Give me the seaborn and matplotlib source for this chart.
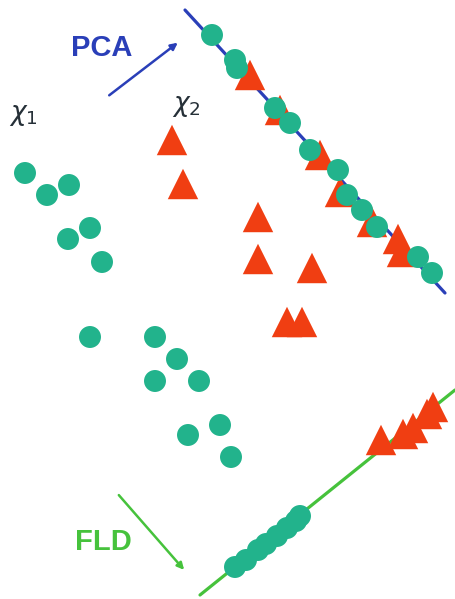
import matplotlib
matplotlib.use("Agg")
import matplotlib.pyplot as plt
import seaborn as sns

# diagram drawn in image-pixel coordinates (y grows downward)
class1_x = [25, 47, 69, 68, 90, 102, 90, 155, 177, 155, 199, 188, 220, 231]
class1_y = [173, 195, 185, 239, 228, 262, 337, 337, 359, 381, 381, 435, 425, 457]
class2_x = [172, 183, 258, 258, 312, 287, 302]
class2_y = [140, 184, 217, 259, 268, 322, 322]

# projections on the PCA direction
pca_line_x = [185, 445]
pca_line_y = [10, 293]
pca_c1_x = [212, 235, 237, 275, 290, 310, 338, 347, 362, 377, 418, 432]
pca_c1_y = [35, 60, 68, 108, 123, 150, 170, 195, 210, 227, 257, 273]
pca_c2_x = [250, 280, 320, 340, 372, 398, 402]
pca_c2_y = [75, 110, 155, 192, 222, 239, 252]

# projections on the FLD direction
fld_line_x = [200, 455]
fld_line_y = [595, 390]
fld_c1_x = [235, 246, 258, 266, 277, 287, 296, 300]
fld_c1_y = [567, 560, 550, 544, 536, 528, 521, 516]
fld_c2_x = [381, 403, 413, 427, 433]
fld_c2_y = [440, 434, 428, 414, 407]

labels = ["PCA", "FLD", r"$\chi_1$", r"$\chi_2$"]

green = "#22b38c"
red = "#f03e12"
blue = "#2a3fb8"
lgreen = "#46c23c"

sns.set_style("white")
fig = plt.figure(figsize=(4.55, 5.99), dpi=100)
ax = fig.add_axes([0, 0, 1, 1])

ax.plot(pca_line_x, pca_line_y, color=blue, lw=2.3, zorder=1)
ax.plot(fld_line_x, fld_line_y, color=lgreen, lw=2.3, zorder=1)

tri = 480
circ = 250
sns.scatterplot(x=class2_x, y=class2_y, marker="^", s=tri, color=red, edgecolor="none", ax=ax, zorder=3)
sns.scatterplot(x=class1_x, y=class1_y, marker="o", s=circ, color=green, edgecolor="none", ax=ax, zorder=3)
sns.scatterplot(x=pca_c2_x, y=pca_c2_y, marker="^", s=tri, color=red, edgecolor="none", ax=ax, zorder=3)
sns.scatterplot(x=pca_c1_x, y=pca_c1_y, marker="o", s=circ, color=green, edgecolor="none", ax=ax, zorder=4)
sns.scatterplot(x=fld_c2_x, y=fld_c2_y, marker="^", s=tri, color=red, edgecolor="none", ax=ax, zorder=3)
sns.scatterplot(x=fld_c1_x, y=fld_c1_y, marker="o", s=circ, color=green, edgecolor="none", ax=ax, zorder=4)

# arrows pointing at the projection lines
ax.annotate("", xy=(180, 41), xytext=(107, 97),
            arrowprops=dict(arrowstyle="-|>", color=blue, lw=1.8, mutation_scale=10))
ax.annotate("", xy=(186, 572), xytext=(117, 493),
            arrowprops=dict(arrowstyle="-|>", color=lgreen, lw=1.8, mutation_scale=10))

ax.text(102, 48, labels[0], color=blue, fontsize=21, fontweight="bold",
        ha="center", va="center", family="Liberation Sans")
ax.text(103, 542, labels[1], color=lgreen, fontsize=21, fontweight="bold",
        ha="center", va="center", family="Liberation Sans")
ax.text(23, 115, labels[2], color="#263038", fontsize=19, ha="center", va="center")
ax.text(186, 106, labels[3], color="#263038", fontsize=19, ha="center", va="center")

ax.set_xlim(0, 455)
ax.set_ylim(599, 0)
ax.axis("off")
fig.savefig("out.png", dpi=100)
